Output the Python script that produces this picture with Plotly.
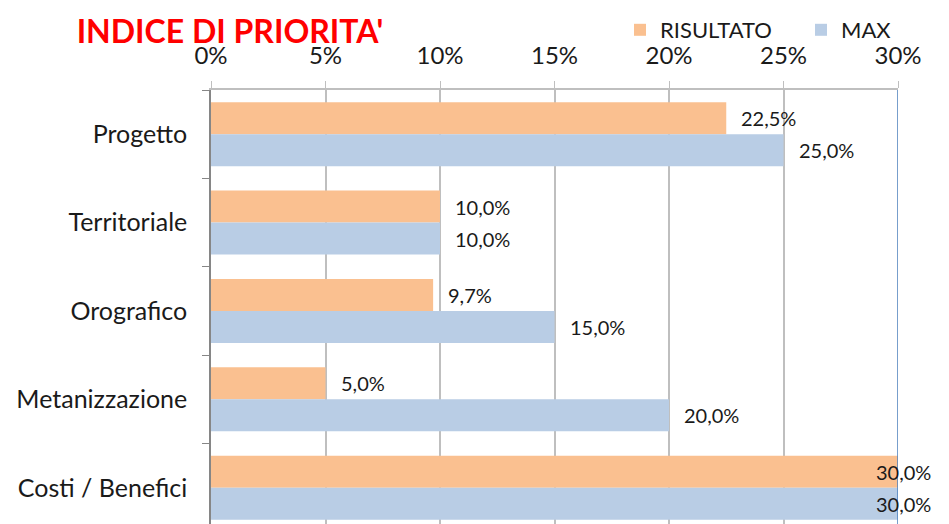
import plotly.graph_objects as go

categories = ["Progetto", "Territoriale", "Orografico", "Metanizzazione", "Costi / Benefici"]
risultato = [0.225, 0.10, 0.097, 0.05, 0.30]
massimo = [0.25, 0.10, 0.15, 0.20, 0.30]
x_max = 0.30

ORANGE = "#FAC090"
BLUE = "#B9CDE5"
FONT = "Lato"

# the page body keeps its default 8px margin, so the figure is 8px smaller
W, H = 941, 516


def fmt(v):
    return f"{v * 100:.1f}".replace(".", ",") + "%"


fig = go.Figure()
fig.add_trace(go.Bar(y=categories, x=risultato, orientation="h", name="RISULTATO",
                     marker=dict(color=ORANGE, line=dict(width=0))))
fig.add_trace(go.Bar(y=categories, x=massimo, orientation="h", name="MAX",
                     marker=dict(color=BLUE, line=dict(width=0))))

# data labels, Excel style (nudged back inside when the bar hits the axis end)
for values, shift in [(risultato, 16), (massimo, -16)]:
    for cat, v in zip(categories, values):
        fig.add_annotation(
            x=v, y=cat, text=fmt(v), showarrow=False,
            xanchor="left", yanchor="middle",
            xshift=13 if v < x_max else -24, yshift=shift,
            font=dict(family=FONT, size=20, color="#1a1a1a"),
        )

fig.add_shape(type="line", x0=x_max, x1=x_max, xref="x", y0=0, y1=1, yref="paper",
              line=dict(color="#4A7EBB", width=1.5))

fig.update_layout(
    width=W,
    height=H,
    margin=dict(l=203, r=51, t=82, b=0, autoexpand=False),
    paper_bgcolor="white",
    plot_bgcolor="white",
    barmode="group",
    bargap=0.276,
    bargroupgap=0,
    font=dict(family=FONT, size=22, color="#1a1a1a"),
    title=dict(text="<b>INDICE DI PRIORITA'</b>", font=dict(family=FONT, size=32, color="#FF0000"),
               xref="container", x=222 / W, xanchor="center", yref="container", y=1 - 24 / H,
               yanchor="middle", automargin=False),
    legend=dict(orientation="h", xref="container", x=612 / W, xanchor="left",
                yref="container", y=1 - 22 / H, yanchor="middle",
                entrywidth=136, entrywidthmode="pixels",
                font=dict(family=FONT, size=22), bgcolor="rgba(0,0,0,0)"),
    showlegend=True,
)
fig.update_xaxes(
    side="top", range=[0, x_max], dtick=0.05, tickformat=".0%", automargin=False,
    showgrid=True, gridcolor="#BFBFBF", gridwidth=1.5, zeroline=False,
    showline=True, linecolor="#BFBFBF", linewidth=1.5,
    ticks="outside", ticklen=7, tickcolor="#BFBFBF", ticklabelstandoff=8,
    tickfont=dict(family=FONT, size=24),
)
fig.update_yaxes(
    range=[4.41, -0.5], showgrid=False, zeroline=False, automargin=False,
    showline=True, linecolor="#868686", linewidth=1.5,
    ticks="outside", tickson="boundaries", ticklen=7, tickcolor="#868686",
    ticklabelstandoff=17, tickfont=dict(family=FONT, size=25),
)

fig.write_html("out.html")
